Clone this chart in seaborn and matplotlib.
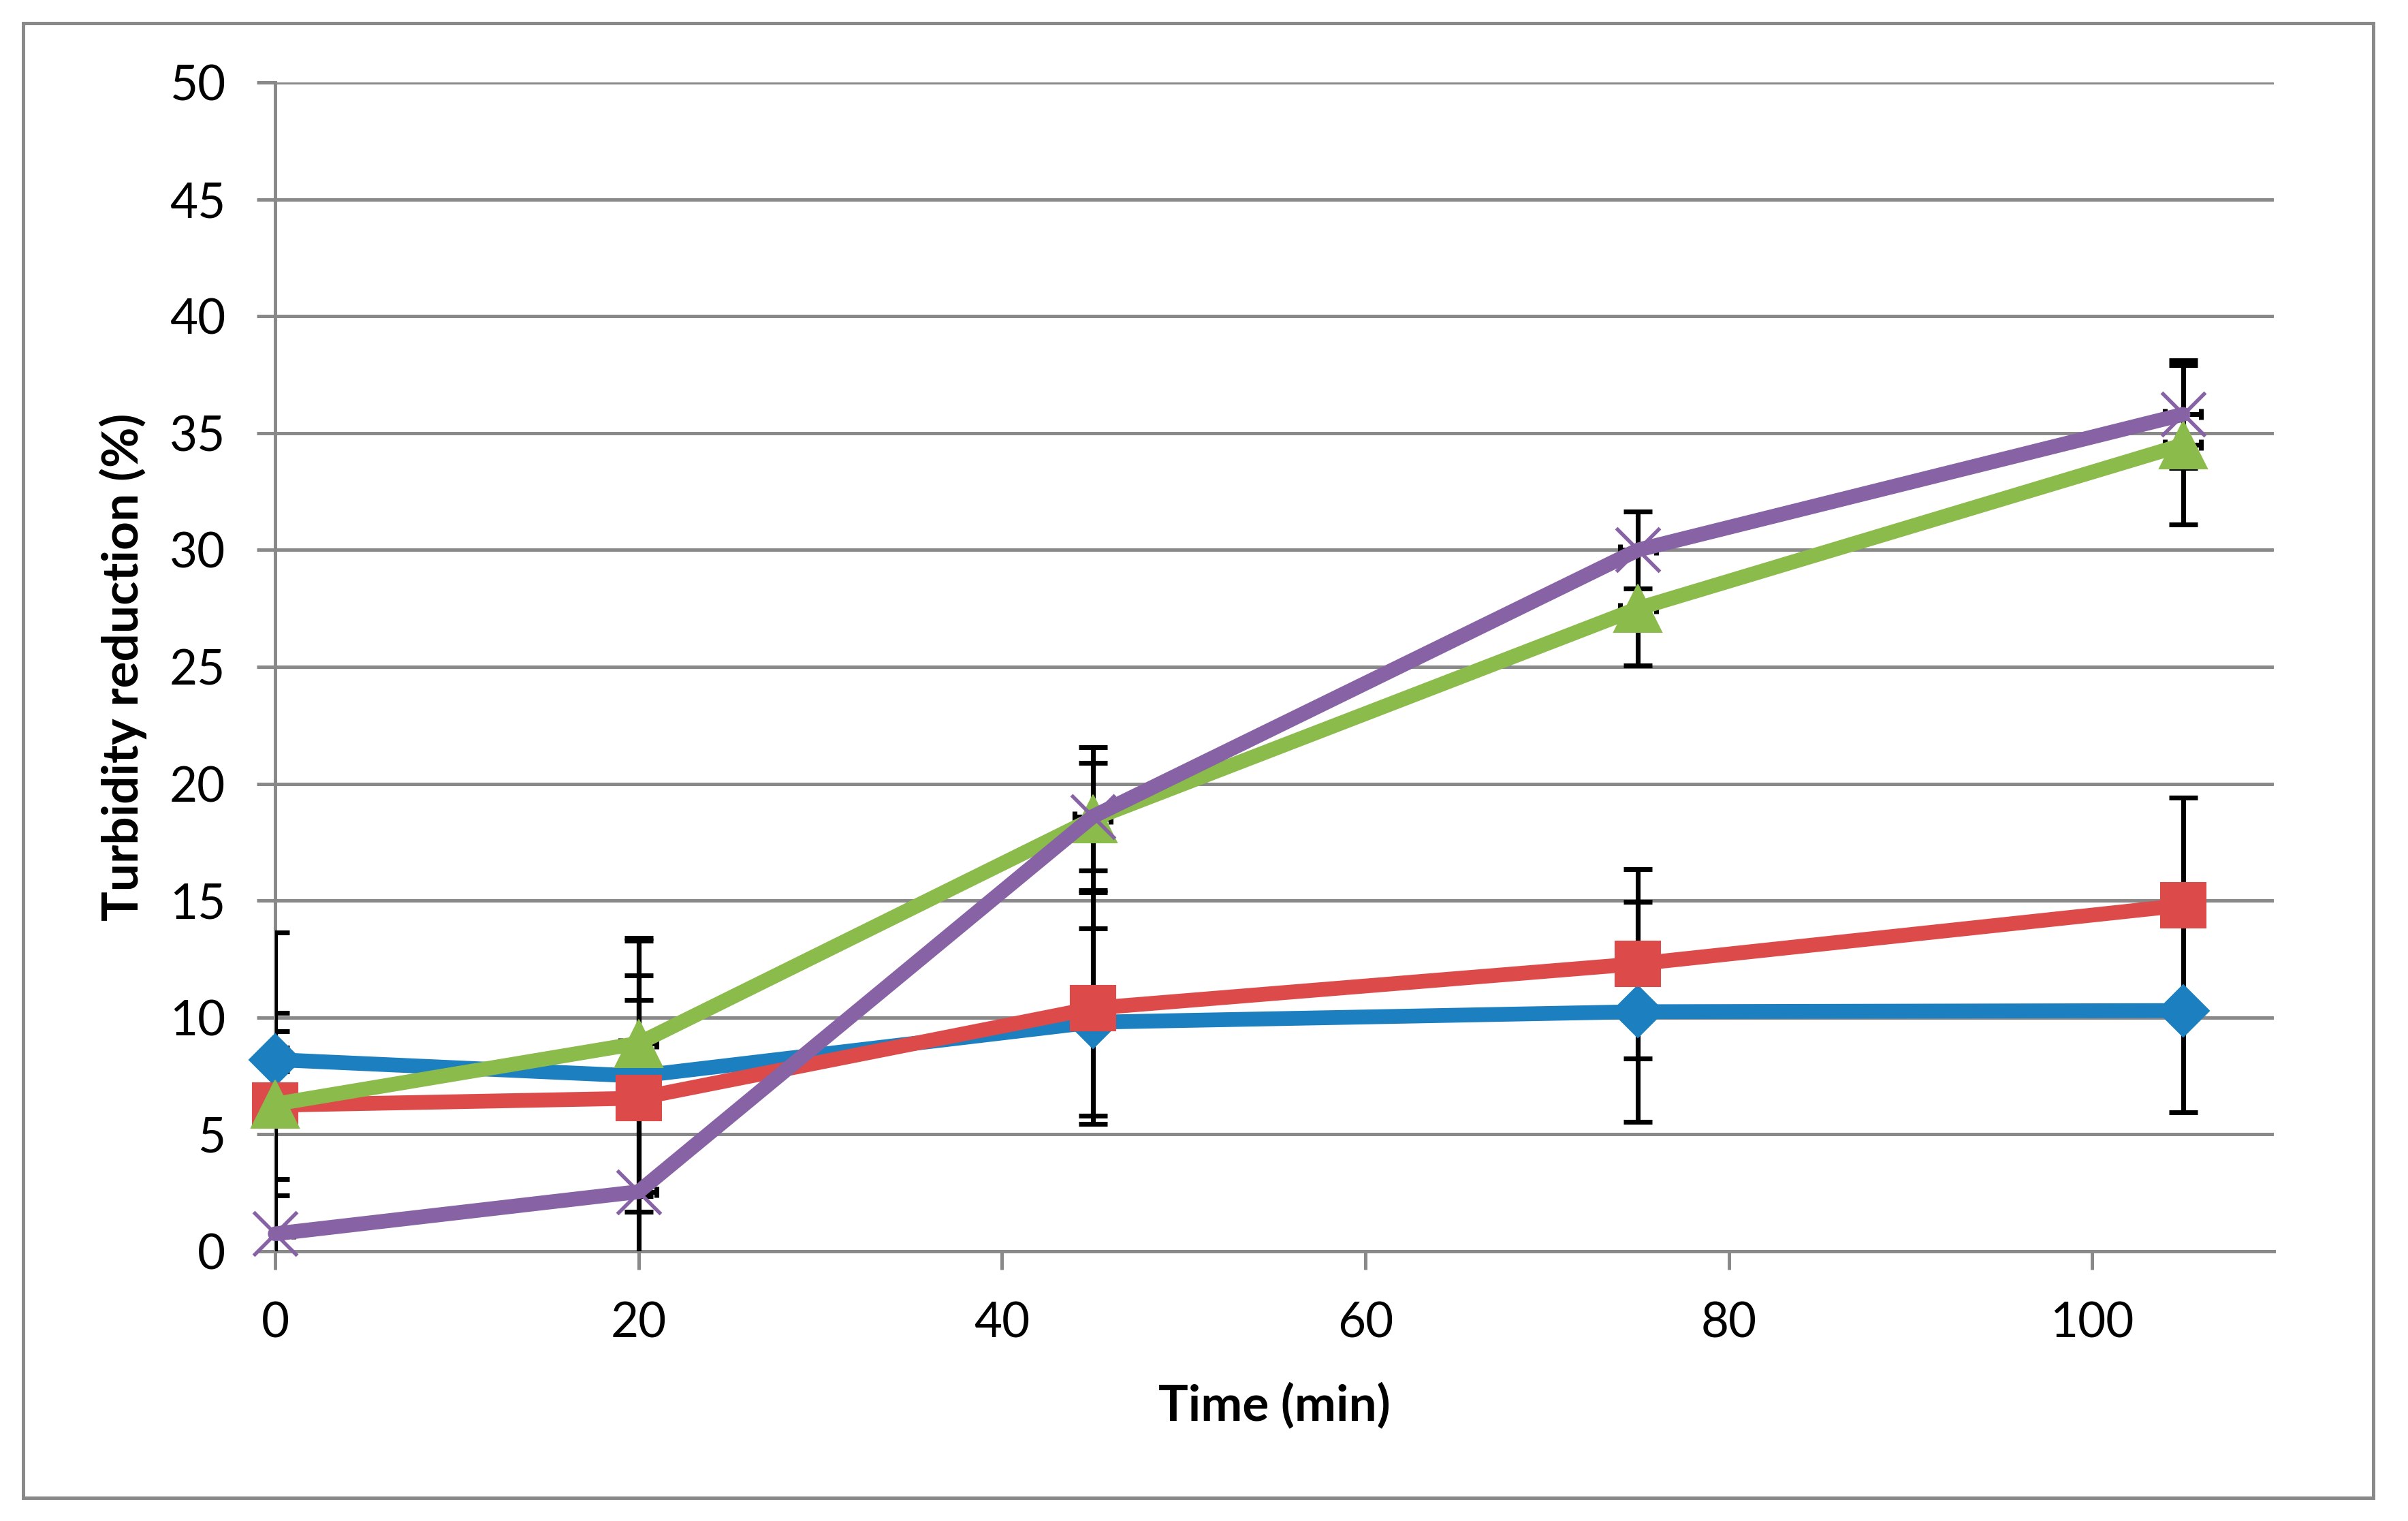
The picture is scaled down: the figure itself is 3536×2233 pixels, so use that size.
import numpy as np
import pandas as pd
import matplotlib
matplotlib.use("Agg")
import matplotlib.pyplot as plt
from matplotlib.patches import Rectangle
import seaborn as sns

# values
time_min = [0, 20, 45, 75, 105]

blue_vals = [8.2, 7.5, 9.8, 10.25, 10.3]
blue_err = [0.5, 5.8, 4.0, 4.7, 4.35]

red_vals = [6.25, 6.55, 10.4, 12.3, 14.8]
red_err = [3.15, 4.2, 4.95, 4.05, 4.6]

green_vals = [6.3, 8.9, 18.5, 27.5, 34.5]
green_err = [3.9, 2.9, 3.05, 2.45, 3.4]

purple_vals = [0.75, 2.55, 18.6, 30.0, 35.8]
purple_err = [12.9, 10.85, 2.3, 1.65, 2.3]

x_err = 1.0

x_ticks = [0, 20, 40, 60, 80, 100]
y_ticks = [0, 5, 10, 15, 20, 25, 30, 35, 40, 45, 50]

GRID = "#898989"

series = [
    ("blue", blue_vals, blue_err, "#1C7FC0", "D", 12.8),
    ("red", red_vals, red_err, "#DC4B4A", "s", 16.0),
    ("green", green_vals, green_err, "#8ABB4B", "^", 17.0),
    ("purple", purple_vals, purple_err, "#8762A4", "x", 15.5),
]

sns.set_style("white")
plt.rcParams["font.family"] = ["Lato", "DejaVu Sans"]
plt.rcParams["text.color"] = "black"
plt.rcParams["axes.labelcolor"] = "black"

fig = plt.figure(figsize=(3536 / 300, 2233 / 300), dpi=300)
ax = fig.add_axes([0.1143, 0.1773, 0.9443 - 0.1143, 0.9458 - 0.1773])

for name, vals, err, col, mk, ms in series:
    df = pd.DataFrame({"time": time_min, "value": vals})
    # error bars first so the lines and markers sit on top
    ax.errorbar(time_min, vals, yerr=err, fmt="none", ecolor="black",
                elinewidth=1.7, capsize=5.0, capthick=1.7, zorder=2.6)
    ax.errorbar(time_min, vals, xerr=x_err, fmt="none", ecolor="black",
                elinewidth=1.7, capsize=2.0, capthick=1.7, zorder=2.6)
    mew = 1.3 if mk == "x" else 0.5
    sns.lineplot(data=df, x="time", y="value", ax=ax, color=col, marker=mk,
                 markersize=ms, markeredgecolor=col, markeredgewidth=mew,
                 linewidth=5.2, zorder=3, estimator=None)

for ln in ax.lines:
    if ln.get_zorder() == 3:
        ln.set_clip_on(False)

ax.set_xlim(0, 110)
ax.set_ylim(0, 50)
ax.set_xticks(x_ticks)
ax.set_yticks(y_ticks)
ax.set_axisbelow(True)
ax.yaxis.grid(True, color=GRID, linewidth=1.2)
ax.xaxis.grid(False)

for side in ["top", "right"]:
    ax.spines[side].set_visible(False)
for side in ["left", "bottom"]:
    ax.spines[side].set_color(GRID)
    ax.spines[side].set_linewidth(1.2)

ax.tick_params(axis="both", direction="out", length=6.5, width=1.2,
               color=GRID, labelsize=17, labelcolor="black", pad=11)
ax.tick_params(axis="y", left=True)
ax.tick_params(axis="x", bottom=True)

ax.set_xlabel("Time (min)", fontsize=17.5, fontweight="bold", color="black")
ax.set_ylabel("Turbidity reduction (%)", fontsize=17.5, fontweight="bold",
              color="black")
ax.xaxis.set_label_coords(0.5, -0.112)
ax.yaxis.set_label_coords(-0.064, 0.5)

fig.add_artist(Rectangle((0.0096, 0.0152), 0.9856 - 0.0096, 0.9848 - 0.0152,
                         transform=fig.transFigure, fill=False,
                         edgecolor=GRID, linewidth=1.2))

fig.savefig("out.png", dpi=300, facecolor="white")
